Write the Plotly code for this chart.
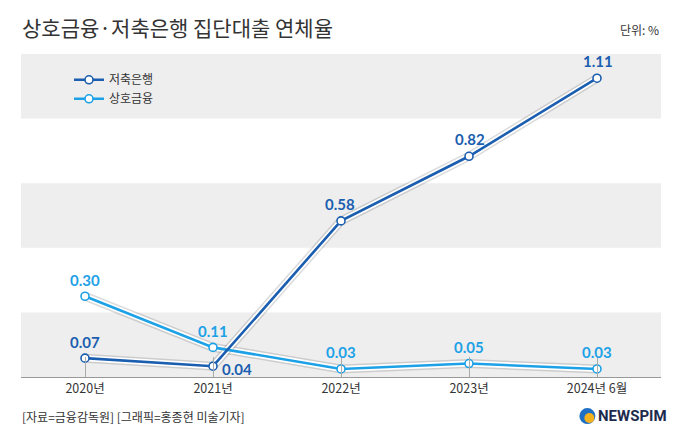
import plotly.graph_objects as go

categories = ["2020년", "2021년", "2022년", "2023년", "2024년 6월"]
savings_bank = [0.07, 0.04, 0.58, 0.82, 1.11]   # 저축은행
mutual_finance = [0.30, 0.11, 0.03, 0.05, 0.03]  # 상호금융
series_names = ["저축은행", "상호금융"]
colors = ["#1b5eb0", "#1da1e6"]

title_text = "상호금융·저축은행 집단대출 연체율"
unit_text = "단위: %"
source_text = "[자료=금융감독원] [그래픽=홍종현 미술기자]"

KR = "Noto Sans CJK KR"
NUM = "Lato"

fig = go.Figure()
xs = list(range(len(categories)))

# shadow + white outline underlay
for vals in (mutual_finance, savings_bank):
    fig.add_trace(go.Scatter(x=xs, y=vals, mode="lines", showlegend=False, hoverinfo="skip",
                             line=dict(color="rgba(0,0,0,0.14)", width=9)))
    fig.add_trace(go.Scatter(x=xs, y=vals, mode="lines", showlegend=False, hoverinfo="skip",
                             line=dict(color="white", width=6)))

for name, vals, col in [(series_names[1], mutual_finance, colors[1]), (series_names[0], savings_bank, colors[0])]:
    fig.add_trace(go.Scatter(
        x=xs, y=vals, mode="lines+markers", name=name,
        line=dict(color=col, width=2.6),
        marker=dict(symbol="circle", size=8, color="white", line=dict(color=col, width=1.6)),
    ))

# label offsets (pixels) per point
sb_off = [(0, 16), (24, -3), (-1, 17), (1, 17), (1, 17)]
mf_off = [(0, 16), (0, 16), (0, 17), (0, 17), (0, 17)]
for vals, col, offs in [(savings_bank, colors[0], sb_off), (mutual_finance, colors[1], mf_off)]:
    for i, v in enumerate(vals):
        fig.add_annotation(x=i, y=v, text=f"{v:.2f}", showarrow=False,
                           xshift=offs[i][0], yshift=offs[i][1],
                           font=dict(family=NUM, size=15, color=col, weight="bold"))

# alternating bands
for y0, y1 in [(0, 0.24), (0.48, 0.72), (0.96, 1.2)]:
    fig.add_shape(type="rect", xref="paper", yref="y", x0=0, x1=1, y0=y0, y1=y1,
                  fillcolor="#eeeeee", line=dict(width=0), layer="below")

# title, unit, source
fig.add_annotation(xref="paper", yref="paper", x=-0.002, y=1.085, xanchor="left", yanchor="middle",
                   text=title_text, showarrow=False,
                   font=dict(family=KR, size=21, color="#333333"))
fig.add_annotation(xref="paper", yref="paper", x=1.0, y=1.075, xanchor="right", yanchor="middle",
                   text=unit_text, showarrow=False,
                   font=dict(family=KR, size=12, color="#333333"))
fig.add_annotation(xref="paper", yref="paper", x=-0.002, y=-0.121, xanchor="left", yanchor="middle",
                   text=source_text, showarrow=False,
                   font=dict(family=KR, size=12, color="#333333"))
# logo
fig.add_shape(type="circle", xref="paper", yref="paper", xsizemode="pixel", ysizemode="pixel",
              xanchor=0.885, yanchor=-0.121, x0=-8, x1=8, y0=-8, y1=8,
              fillcolor="#1f6fc4", line=dict(width=0))
fig.add_shape(type="circle", xref="paper", yref="paper", xsizemode="pixel", ysizemode="pixel",
              xanchor=0.885, yanchor=-0.121, x0=-3, x1=7, y0=-7, y1=3,
              fillcolor="#f5b21b", line=dict(width=0))
fig.add_annotation(xref="paper", yref="paper", x=0.898, y=-0.121, xanchor="left", yanchor="middle",
                   text="NEWSPIM", showarrow=False,
                   font=dict(family="Liberation Sans Narrow, Roboto", size=15, color="#1c2b4d", weight="bold"))

fig.update_layout(
    width=680, height=442,
    margin=dict(l=21, r=19, t=54, b=65),
    paper_bgcolor="white", plot_bgcolor="white",
    showlegend=True,
    legend=dict(x=0.075, y=0.965, xanchor="left", yanchor="top", bgcolor="rgba(0,0,0,0)",
                traceorder="reversed", font=dict(family=KR, size=12, color="#333333"),
                tracegroupgap=0, itemwidth=30),
    xaxis=dict(range=[-0.5, 4.5], tickmode="array", tickvals=xs, ticktext=categories,
               showgrid=False, zeroline=False, showline=True, linecolor="#999999", linewidth=1,
               ticks="inside", ticklen=20, tickcolor="#aaaaaa", tickwidth=1,
               tickfont=dict(family=KR, size=12.5, color="#333333"), fixedrange=True),
    yaxis=dict(range=[0, 1.2], visible=False, fixedrange=True),
)

fig.write_html("out.html", config={"displayModeBar": False},
               post_script="document.body.style.margin='0';document.body.style.overflow='hidden';")
